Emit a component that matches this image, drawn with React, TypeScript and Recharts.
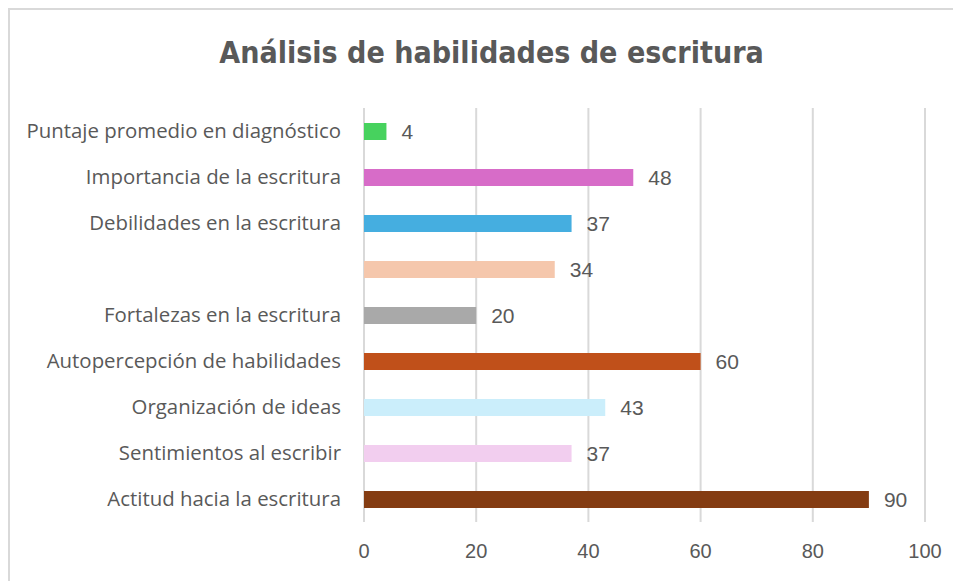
import { BarChart, Bar, XAxis, YAxis, CartesianGrid, Cell, LabelList } from 'recharts'

const categories = [
  'Puntaje promedio en diagnóstico',
  'Importancia de la escritura',
  'Debilidades en la escritura',
  '',
  'Fortalezas en la escritura',
  'Autopercepción de habilidades',
  'Organización de ideas',
  'Sentimientos al escribir',
  'Actitud hacia la escritura',
]
const values = [4, 48, 37, 34, 20, 60, 43, 37, 90]
const barColors = ['#47D25E', '#D76CC8', '#45AEE0', '#F5C7AC', '#A9A9A9', '#C0501A', '#CBEEFB', '#F2CEEF', '#843C12']
const xTicks = [0, 20, 40, 60, 80, 100]

const chartData = categories.map((name, i) => ({ name, value: values[i], color: barColors[i] }))

const textColor = '#595959'

export default function App() {
  return (
    <div style={{ position: 'relative', width: 951, height: 571, border: '2px solid #D9D9D9', background: '#fff' }}>
      <div
        style={{
          position: 'absolute',
          left: 0,
          top: 24,
          width: 951,
          textAlign: 'center',
          fontFamily: "'Liberation Sans Narrow', 'DejaVu Sans Condensed', sans-serif",
          fontWeight: 'bold',
          fontSize: 31,
          color: textColor,
          transform: 'translateX(6px) scaleX(0.97)',
        }}
      >
        Análisis de habilidades de escritura
      </div>
      <BarChart
        width={951}
        height={571}
        data={chartData}
        layout="vertical"
        margin={{ top: 98, right: 36, bottom: 0, left: 0 }}
        barCategoryGap={0}
      >
        <CartesianGrid horizontal={false} stroke="#D9D9D9" strokeWidth={2} />
        <XAxis
          type="number"
          domain={[0, 100]}
          ticks={xTicks}
          height={59}
          axisLine={false}
          tickLine={false}
          tickSize={0}
          tickMargin={22}
          tick={{ fill: textColor, fontSize: 20, fontFamily: "'Liberation Sans', Arial, sans-serif" }}
        />
        <YAxis
          type="category"
          dataKey="name"
          width={354}
          axisLine={false}
          tickLine={false}
          tickSize={0}
          tickMargin={23}
          interval={0}
          tick={{ fill: textColor, fontSize: 20.4, fontFamily: "'Open Sans', 'Noto Sans', sans-serif" }}
        />
        <Bar dataKey="value" barSize={17} isAnimationActive={false}>
          {chartData.map((entry, index) => (
            <Cell key={`cell-${index}`} fill={entry.color} />
          ))}
          <LabelList
            dataKey="value"
            position="right"
            offset={15}
            fill={textColor}
            fontSize={21}
            fontFamily="'Liberation Sans', Arial, sans-serif"
          />
        </Bar>
      </BarChart>
    </div>
  )
}
